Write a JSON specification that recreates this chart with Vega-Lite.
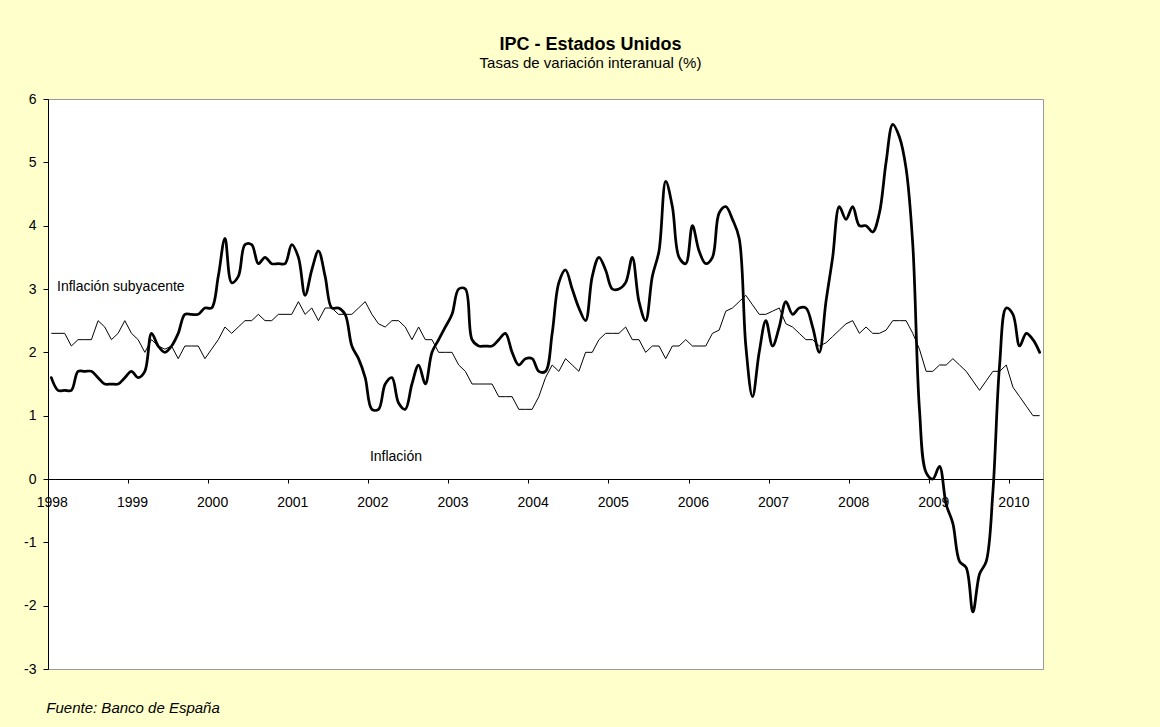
{
"$schema": "https://vega.github.io/schema/vega-lite/v6.json",
"width": 995,
"height": 570,
"autosize": {"type": "none"},
"padding": {"left": 48, "top": 99, "right": 117, "bottom": 58},
"background": "#FFFFCC",
"title": {"text": "IPC - Estados Unidos", "subtitle": "Tasas de variación interanual (%)", "anchor": "middle", "frame": "group", "dx": 45, "offset": 21, "font": "Liberation Sans", "fontSize": 18, "fontWeight": "bold", "color": "#000000", "subtitleFont": "Liberation Sans", "subtitleFontSize": 15, "subtitleColor": "#000000", "subtitlePadding": 2},
"data": {"values": [
{"fecha":"1998-01","infl":1.6,"suby":2.3},{"fecha":"1998-02","infl":1.4,"suby":2.3},{"fecha":"1998-03","infl":1.4,"suby":2.3},{"fecha":"1998-04","infl":1.4,"suby":2.1},{"fecha":"1998-05","infl":1.7,"suby":2.2},{"fecha":"1998-06","infl":1.7,"suby":2.2},{"fecha":"1998-07","infl":1.7,"suby":2.2},{"fecha":"1998-08","infl":1.6,"suby":2.5},{"fecha":"1998-09","infl":1.5,"suby":2.4},{"fecha":"1998-10","infl":1.5,"suby":2.2},{"fecha":"1998-11","infl":1.5,"suby":2.3},{"fecha":"1998-12","infl":1.6,"suby":2.5},
{"fecha":"1999-01","infl":1.7,"suby":2.3},{"fecha":"1999-02","infl":1.6,"suby":2.2},{"fecha":"1999-03","infl":1.7,"suby":2.0},{"fecha":"1999-04","infl":2.3,"suby":2.2},{"fecha":"1999-05","infl":2.1,"suby":2.1},{"fecha":"1999-06","infl":2.0,"suby":2.05},{"fecha":"1999-07","infl":2.1,"suby":2.1},{"fecha":"1999-08","infl":2.3,"suby":1.9},{"fecha":"1999-09","infl":2.6,"suby":2.1},{"fecha":"1999-10","infl":2.6,"suby":2.1},{"fecha":"1999-11","infl":2.6,"suby":2.1},{"fecha":"1999-12","infl":2.7,"suby":1.9},
{"fecha":"2000-01","infl":2.7,"suby":2.05},{"fecha":"2000-02","infl":3.2,"suby":2.2},{"fecha":"2000-03","infl":3.8,"suby":2.4},{"fecha":"2000-04","infl":3.1,"suby":2.3},{"fecha":"2000-05","infl":3.2,"suby":2.4},{"fecha":"2000-06","infl":3.7,"suby":2.5},{"fecha":"2000-07","infl":3.7,"suby":2.5},{"fecha":"2000-08","infl":3.4,"suby":2.6},{"fecha":"2000-09","infl":3.5,"suby":2.5},{"fecha":"2000-10","infl":3.4,"suby":2.5},{"fecha":"2000-11","infl":3.4,"suby":2.6},{"fecha":"2000-12","infl":3.4,"suby":2.6},
{"fecha":"2001-01","infl":3.7,"suby":2.6},{"fecha":"2001-02","infl":3.5,"suby":2.8},{"fecha":"2001-03","infl":2.9,"suby":2.6},{"fecha":"2001-04","infl":3.3,"suby":2.7},{"fecha":"2001-05","infl":3.6,"suby":2.5},{"fecha":"2001-06","infl":3.2,"suby":2.7},{"fecha":"2001-07","infl":2.7,"suby":2.7},{"fecha":"2001-08","infl":2.7,"suby":2.6},{"fecha":"2001-09","infl":2.6,"suby":2.6},{"fecha":"2001-10","infl":2.1,"suby":2.6},{"fecha":"2001-11","infl":1.9,"suby":2.7},{"fecha":"2001-12","infl":1.6,"suby":2.8},
{"fecha":"2002-01","infl":1.1,"suby":2.6},{"fecha":"2002-02","infl":1.1,"suby":2.45},{"fecha":"2002-03","infl":1.5,"suby":2.4},{"fecha":"2002-04","infl":1.6,"suby":2.5},{"fecha":"2002-05","infl":1.2,"suby":2.5},{"fecha":"2002-06","infl":1.1,"suby":2.4},{"fecha":"2002-07","infl":1.5,"suby":2.2},{"fecha":"2002-08","infl":1.8,"suby":2.4},{"fecha":"2002-09","infl":1.5,"suby":2.2},{"fecha":"2002-10","infl":2.0,"suby":2.2},{"fecha":"2002-11","infl":2.2,"suby":2.0},{"fecha":"2002-12","infl":2.4,"suby":2.0},
{"fecha":"2003-01","infl":2.6,"suby":2.0},{"fecha":"2003-02","infl":3.0,"suby":1.8},{"fecha":"2003-03","infl":3.0,"suby":1.7},{"fecha":"2003-04","infl":2.2,"suby":1.5},{"fecha":"2003-05","infl":2.1,"suby":1.5},{"fecha":"2003-06","infl":2.1,"suby":1.5},{"fecha":"2003-07","infl":2.1,"suby":1.5},{"fecha":"2003-08","infl":2.2,"suby":1.3},{"fecha":"2003-09","infl":2.3,"suby":1.3},{"fecha":"2003-10","infl":2.0,"suby":1.3},{"fecha":"2003-11","infl":1.8,"suby":1.1},{"fecha":"2003-12","infl":1.9,"suby":1.1},
{"fecha":"2004-01","infl":1.9,"suby":1.1},{"fecha":"2004-02","infl":1.7,"suby":1.3},{"fecha":"2004-03","infl":1.7,"suby":1.6},{"fecha":"2004-04","infl":2.3,"suby":1.8},{"fecha":"2004-05","infl":3.1,"suby":1.7},{"fecha":"2004-06","infl":3.3,"suby":1.9},{"fecha":"2004-07","infl":3.0,"suby":1.8},{"fecha":"2004-08","infl":2.7,"suby":1.7},{"fecha":"2004-09","infl":2.5,"suby":2.0},{"fecha":"2004-10","infl":3.2,"suby":2.0},{"fecha":"2004-11","infl":3.5,"suby":2.2},{"fecha":"2004-12","infl":3.3,"suby":2.3},
{"fecha":"2005-01","infl":3.0,"suby":2.3},{"fecha":"2005-02","infl":3.0,"suby":2.3},{"fecha":"2005-03","infl":3.1,"suby":2.4},{"fecha":"2005-04","infl":3.5,"suby":2.2},{"fecha":"2005-05","infl":2.8,"suby":2.2},{"fecha":"2005-06","infl":2.5,"suby":2.0},{"fecha":"2005-07","infl":3.2,"suby":2.1},{"fecha":"2005-08","infl":3.6,"suby":2.1},{"fecha":"2005-09","infl":4.7,"suby":1.9},{"fecha":"2005-10","infl":4.3,"suby":2.1},{"fecha":"2005-11","infl":3.5,"suby":2.1},{"fecha":"2005-12","infl":3.4,"suby":2.2},
{"fecha":"2006-01","infl":4.0,"suby":2.1},{"fecha":"2006-02","infl":3.6,"suby":2.1},{"fecha":"2006-03","infl":3.4,"suby":2.1},{"fecha":"2006-04","infl":3.5,"suby":2.3},{"fecha":"2006-05","infl":4.2,"suby":2.35},{"fecha":"2006-06","infl":4.3,"suby":2.65},{"fecha":"2006-07","infl":4.1,"suby":2.7},{"fecha":"2006-08","infl":3.8,"suby":2.8},{"fecha":"2006-09","infl":2.1,"suby":2.9},{"fecha":"2006-10","infl":1.3,"suby":2.75},{"fecha":"2006-11","infl":2.0,"suby":2.6},{"fecha":"2006-12","infl":2.5,"suby":2.6},
{"fecha":"2007-01","infl":2.1,"suby":2.65},{"fecha":"2007-02","infl":2.4,"suby":2.7},{"fecha":"2007-03","infl":2.8,"suby":2.45},{"fecha":"2007-04","infl":2.6,"suby":2.4},{"fecha":"2007-05","infl":2.7,"suby":2.3},{"fecha":"2007-06","infl":2.7,"suby":2.2},{"fecha":"2007-07","infl":2.4,"suby":2.2},{"fecha":"2007-08","infl":2.0,"suby":2.1},{"fecha":"2007-09","infl":2.8,"suby":2.15},{"fecha":"2007-10","infl":3.5,"suby":2.25},{"fecha":"2007-11","infl":4.3,"suby":2.35},{"fecha":"2007-12","infl":4.1,"suby":2.45},
{"fecha":"2008-01","infl":4.3,"suby":2.5},{"fecha":"2008-02","infl":4.0,"suby":2.3},{"fecha":"2008-03","infl":4.0,"suby":2.4},{"fecha":"2008-04","infl":3.9,"suby":2.3},{"fecha":"2008-05","infl":4.2,"suby":2.3},{"fecha":"2008-06","infl":5.0,"suby":2.35},{"fecha":"2008-07","infl":5.6,"suby":2.5},{"fecha":"2008-08","infl":5.4,"suby":2.5},{"fecha":"2008-09","infl":4.9,"suby":2.5},{"fecha":"2008-10","infl":3.7,"suby":2.3},{"fecha":"2008-11","infl":1.1,"suby":2.05},{"fecha":"2008-12","infl":0.1,"suby":1.7},
{"fecha":"2009-01","infl":0.0,"suby":1.7},{"fecha":"2009-02","infl":0.2,"suby":1.8},{"fecha":"2009-03","infl":-0.4,"suby":1.8},{"fecha":"2009-04","infl":-0.7,"suby":1.9},{"fecha":"2009-05","infl":-1.3,"suby":1.8},{"fecha":"2009-06","infl":-1.4,"suby":1.7},{"fecha":"2009-07","infl":-2.1,"suby":1.55},{"fecha":"2009-08","infl":-1.5,"suby":1.4},{"fecha":"2009-09","infl":-1.3,"suby":1.55},{"fecha":"2009-10","infl":-0.2,"suby":1.7},{"fecha":"2009-11","infl":1.8,"suby":1.7},{"fecha":"2009-12","infl":2.7,"suby":1.8},
{"fecha":"2010-01","infl":2.6,"suby":1.45},{"fecha":"2010-02","infl":2.1,"suby":1.3},{"fecha":"2010-03","infl":2.3,"suby":1.15},{"fecha":"2010-04","infl":2.2,"suby":1.0},{"fecha":"2010-05","infl":2.0,"suby":1.0}
]},
"layer": [
{"mark": {"type": "line", "color": "#000000", "strokeWidth": 1, "strokeJoin": "round"},
 "encoding": {
  "x": {"field": "fecha", "type": "ordinal", "bandPosition": 0.5, "scale": {"type": "band", "paddingInner": 0, "paddingOuter": 0},
        "axis": {"title": null, "orient": "bottom", "offset": -190, "values": ["1998-01","1999-01","2000-01","2001-01","2002-01","2003-01","2004-01","2005-01","2006-01","2007-01","2008-01","2009-01","2010-01"], "bandPosition": 0, "labelExpr": "substring(datum.label, 0, 4)", "labelAngle": 0, "labelAlign": "center", "labelBaseline": "top", "labelOffset": 1, "tickSize": 4, "labelPadding": 12, "labelOverlap": false}},
  "y": {"field": "suby", "type": "quantitative", "scale": {"domain": [-3, 6], "nice": false, "zero": false},
        "axis": {"title": null, "values": [-3,-2,-1,0,1,2,3,4,5,6], "labelExpr": "toString(datum.value)", "tickSize": 5, "labelPadding": 7, "grid": false}}
 }},
{"mark": {"type": "line", "color": "#000000", "strokeWidth": 2.75, "strokeJoin": "round", "strokeCap": "round", "interpolate": "catmull-rom"},
 "encoding": {
  "x": {"field": "fecha", "type": "ordinal", "bandPosition": 0.5},
  "y": {"field": "infl", "type": "quantitative", "axis": {"title": null, "labelExpr": "toString(datum.value)"}}
 }},
{"data": {"values": [{}]},
 "mark": {"type": "text", "text": "Inflación subyacente", "align": "left", "baseline": "alphabetic", "dx": -1, "font": "Liberation Sans", "fontSize": 14, "color": "#000000"},
 "encoding": {"x": {"datum": "1998-02", "type": "ordinal", "bandPosition": 0.5}, "y": {"datum": 2.97, "type": "quantitative"}}},
{"data": {"values": [{}]},
 "mark": {"type": "text", "text": "Inflación", "align": "left", "baseline": "alphabetic", "dx": -2, "font": "Liberation Sans", "fontSize": 14, "color": "#000000"},
 "encoding": {"x": {"datum": "2002-01", "type": "ordinal", "bandPosition": 0.5}, "y": {"datum": 0.29, "type": "quantitative"}}},
{"data": {"values": [{}]},
 "mark": {"type": "text", "text": "Fuente: Banco de España", "align": "left", "baseline": "alphabetic", "dx": -5, "font": "Liberation Sans", "fontSize": 15, "fontStyle": "italic", "color": "#000000"},
 "encoding": {"x": {"datum": "1998-01", "type": "ordinal", "bandPosition": 0.5}, "y": {"datum": -3.7, "type": "quantitative"}}}
],
"config": {
 "view": {"fill": "#FFFFFF", "stroke": "#999999", "strokeWidth": 1},
 "axis": {"labelFont": "Liberation Sans", "labelFontSize": 14, "labelColor": "#000000", "domainColor": "#000000", "domainWidth": 1, "tickColor": "#000000", "tickWidth": 1, "grid": false}
}
}
